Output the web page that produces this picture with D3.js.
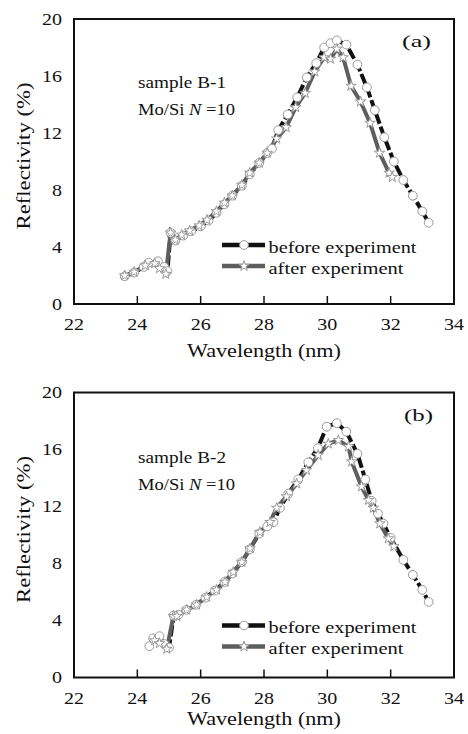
<!DOCTYPE html>
<html>
<head>
<meta charset="utf-8">
<script src="https://cdn.jsdelivr.net/npm/d3@7"></script>
</head>
<body style="margin:0">
<svg id="fig" width="468" height="734"></svg>
<script>
// wavelength (nm), reflectivity (%)
const beforeA = [
  [23.6, 1.95], [23.9, 2.2], [24.2, 2.6], [24.35, 2.9], [24.65, 3.0], [24.85, 2.6],
  [24.95, 2.3], [25.05, 5.0], [25.2, 4.45], [25.45, 4.8], [25.7, 5.1], [26.0, 5.45],
  [26.25, 5.85], [26.5, 6.4], [26.75, 7.0], [27.0, 7.6], [27.3, 8.3], [27.55, 9.1],
  [27.85, 9.9], [28.1, 10.6], [28.25, 10.9], [28.45, 12.2], [28.75, 13.3], [29.05, 14.5],
  [29.35, 15.9], [29.65, 16.9], [29.9, 18.0], [30.1, 18.3], [30.3, 18.5], [30.6, 18.2],
  [30.95, 16.8], [31.25, 15.2], [31.5, 13.6], [31.8, 11.7], [32.1, 10.0], [32.4, 8.7],
  [32.7, 7.6], [33.0, 6.5], [33.2, 5.7]
]
const afterA = [
  [23.6, 2.0], [23.9, 2.25], [24.25, 2.7], [24.55, 2.85], [24.7, 2.5], [24.9, 2.1],
  [25.05, 5.0], [25.2, 4.5], [25.4, 4.85], [25.65, 5.15], [25.95, 5.5], [26.2, 5.9],
  [26.5, 6.5], [26.75, 7.1], [27.0, 7.6], [27.3, 8.35], [27.55, 9.2], [27.85, 9.9],
  [28.1, 10.6], [28.4, 11.6], [28.7, 12.4], [29.0, 13.8], [29.3, 14.8], [29.6, 16.3],
  [29.9, 17.3], [30.1, 17.2], [30.3, 17.9], [30.5, 17.3], [30.75, 15.3], [31.05, 14.2],
  [31.35, 12.7], [31.65, 10.6], [31.95, 9.2], [32.05, 8.9]
]
const beforeB = [
  [24.38, 2.2], [24.5, 2.75], [24.7, 2.9], [24.85, 2.35], [25.0, 2.1], [25.15, 4.35],
  [25.3, 4.4], [25.55, 4.75], [25.85, 5.1], [26.15, 5.6], [26.45, 6.1], [26.75, 6.7],
  [27.0, 7.3], [27.3, 8.1], [27.55, 9.0], [27.85, 10.1], [28.1, 10.6], [28.3, 10.9],
  [28.5, 11.9], [28.77, 12.9], [29.08, 13.9], [29.4, 15.1], [29.7, 16.1], [29.98, 17.6],
  [30.3, 17.85], [30.6, 17.25], [30.95, 15.7], [31.2, 13.9], [31.4, 12.4], [31.6, 11.5],
  [31.77, 10.8], [32.0, 9.8], [32.4, 8.25], [32.7, 7.2], [33.0, 6.15], [33.2, 5.3]
]
const afterB = [
  [24.55, 2.6], [24.7, 2.4], [24.93, 2.0], [25.14, 4.3], [25.25, 4.3], [25.56, 4.75],
  [25.87, 5.1], [26.19, 5.65], [26.5, 6.15], [26.77, 6.7], [27.03, 7.4], [27.3, 8.1],
  [27.56, 9.05], [27.87, 10.2], [28.19, 10.9], [28.4, 11.9], [28.71, 12.7], [29.03, 13.6],
  [29.34, 14.55], [29.71, 15.6], [30.03, 16.4], [30.35, 16.65], [30.67, 16.2], [30.77, 15.15],
  [31.08, 13.4], [31.3, 12.45], [31.45, 11.9], [31.66, 10.8], [31.93, 9.75], [32.1, 9.2]
]

const xTicks = [22, 24, 26, 28, 30, 32, 34]
const yTicks = [0, 4, 8, 12, 16, 20]
const legendLabels = ['before experiment', 'after experiment']

const FONT = 'Liberation Serif'
const INK = '#111111'
const GREY = '#5e5e5e'
const MARK = '#9a9a9a'

const fig = d3.select('#fig')

const PLOT_LEFT = 74
const PLOT_W = 380
const PLOT_H = 285

const xScale = d3.scaleLinear().domain([22, 34]).range([0, PLOT_W])
const yScale = d3.scaleLinear().domain([0, 20]).range([PLOT_H, 0])

const curve = d3.line()
  .x(d => xScale(d[0]))
  .y(d => yScale(d[1]))

const starShape = d3.symbol().type(d3.symbolStar).size(34)

// wide serif look: stretch Liberation glyphs to the reference widths
function putText(sel, str, size, width) {
  sel.attr('font-family', FONT)
    .attr('font-size', size)
    .attr('fill', INK)
    .text(str)
  if (width) sel.attr('textLength', width).attr('lengthAdjust', 'spacingAndGlyphs')
  return sel
}

function drawPanel(p) {
  const g = fig.append('g').attr('transform', `translate(${PLOT_LEFT},${p.top})`)

  // frame: dark box with a white inner box, ticks cut out as a polygon outline
  const [fx0, fx1] = xScale.range()
  const [fy1, fy0] = yScale.range()
  const inner = xTicks.filter(t => t !== 22 && t !== 34)
  let ring = `M${fx0 - 1},${fy0 - 1}H${fx1 + 1}V${fy1 + 1}H${fx0 - 1}Z`
  // inner hole traced counter-clockwise, with notches for the inward ticks
  let hole = `M${fx0 + 1},${fy0 + 1}V${fy1 - 1}`
  inner.forEach(t => {
    const tx = xScale(t)
    hole += `H${tx - 0.75}V${fy1 - 8}H${tx + 0.75}V${fy1 - 1}`
  })
  hole += `H${fx1 - 1}V${fy0 + 1}Z`
  g.append('path')
    .attr('d', ring + hole)
    .attr('fill', INK)
    .attr('fill-rule', 'evenodd')

  // curves
  g.append('path')
    .datum(p.before)
    .attr('d', curve)
    .attr('fill', 'none')
    .attr('stroke', INK)
    .attr('stroke-width', 4)
    .attr('stroke-dasharray', '11,3')

  g.append('path')
    .datum(p.after)
    .attr('d', curve)
    .attr('fill', 'none')
    .attr('stroke', GREY)
    .attr('stroke-width', 4)

  g.append('g')
    .selectAll('circle')
    .data(p.before)
    .join('circle')
      .attr('cx', d => xScale(d[0]))
      .attr('cy', d => yScale(d[1]))
      .attr('r', 4.4)
      .attr('fill', '#fff')
      .attr('stroke', MARK)
      .attr('stroke-width', 1)

  g.append('g')
    .selectAll('path')
    .data(p.after)
    .join('path')
      .attr('d', starShape)
      .attr('transform', d => `translate(${xScale(d[0])},${yScale(d[1])})`)
      .attr('fill', '#fff')
      .attr('stroke', MARK)
      .attr('stroke-width', 1)

  // tick labels
  g.append('g')
    .selectAll('text')
    .data(xTicks)
    .join('text')
      .attr('x', d => xScale(d))
      .attr('y', PLOT_H + 26)
      .attr('text-anchor', 'middle')
      .attr('font-family', FONT)
      .attr('font-size', 17)
      .attr('fill', INK)
      .attr('textLength', 20)
      .attr('lengthAdjust', 'spacingAndGlyphs')
      .text(d => d)

  g.append('g')
    .selectAll('text')
    .data(yTicks)
    .join('text')
      .attr('x', -12)
      .attr('y', d => yScale(d))
      .attr('dy', '0.34em')
      .attr('text-anchor', 'end')
      .attr('font-family', FONT)
      .attr('font-size', 17)
      .attr('fill', INK)
      .attr('textLength', d => d >= 10 ? 20 : 10)
      .attr('lengthAdjust', 'spacingAndGlyphs')
      .text(d => d)

  // axis titles
  putText(g.append('text'), 'Wavelength (nm)', 18, 154)
    .attr('x', PLOT_W / 2 - 77)
    .attr('y', PLOT_H + p.titleGap)

  putText(g.append('text'), 'Reflectivity (%)', 18, 147)
    .attr('transform', `translate(-44,${PLOT_H / 2 - 5 + 73}) rotate(-90)`)

  // annotations
  putText(g.append('text'), p.sample, 16, 88)
    .attr('x', 64).attr('y', p.sampleY)

  const mo = g.append('text')
    .attr('x', 64).attr('y', p.sampleY + 26.5)
    .attr('font-family', FONT)
    .attr('font-size', 16)
    .attr('fill', INK)
    .attr('textLength', 97)
    .attr('lengthAdjust', 'spacingAndGlyphs')
  mo.append('tspan').text('Mo/Si ')
  mo.append('tspan').attr('font-style', 'italic').text('N')
  mo.append('tspan').text(' =10')

  putText(g.append('text'), p.tag, 17, 29)
    .attr('x', p.tagX).attr('y', 28)

  // legend
  const leg = g.append('g').attr('transform', `translate(148,${PLOT_H - p.legendUp})`)
  legendLabels.forEach((lab, i) => {
    const row = leg.append('g').attr('transform', `translate(0,${i * 21})`)
    row.append('rect')
      .attr('x', 0).attr('y', -2.25).attr('width', 43).attr('height', 4.5)
      .attr('fill', i === 0 ? INK : GREY)
    if (i === 0) {
      row.append('circle').attr('cx', 22).attr('cy', 0).attr('r', 4.4)
        .attr('fill', '#fff').attr('stroke', MARK)
    } else {
      row.append('path').attr('d', starShape).attr('transform', 'translate(22,0)')
        .attr('fill', '#fff').attr('stroke', MARK)
    }
    putText(row.append('text'), lab, 17, i === 0 ? 148 : 135)
      .attr('x', 46.5).attr('y', 7.5)
  })
}

drawPanel({ top: 19, before: beforeA, after: afterA, sample: 'sample B-1', tag: '(a)',
  tagX: 328, sampleY: 69, titleGap: 53, legendUp: 59 })
drawPanel({ top: 392.5, before: beforeB, after: afterB, sample: 'sample B-2', tag: '(b)',
  tagX: 330, sampleY: 70.5, titleGap: 47, legendUp: 52 })
</script>
</body>
</html>
